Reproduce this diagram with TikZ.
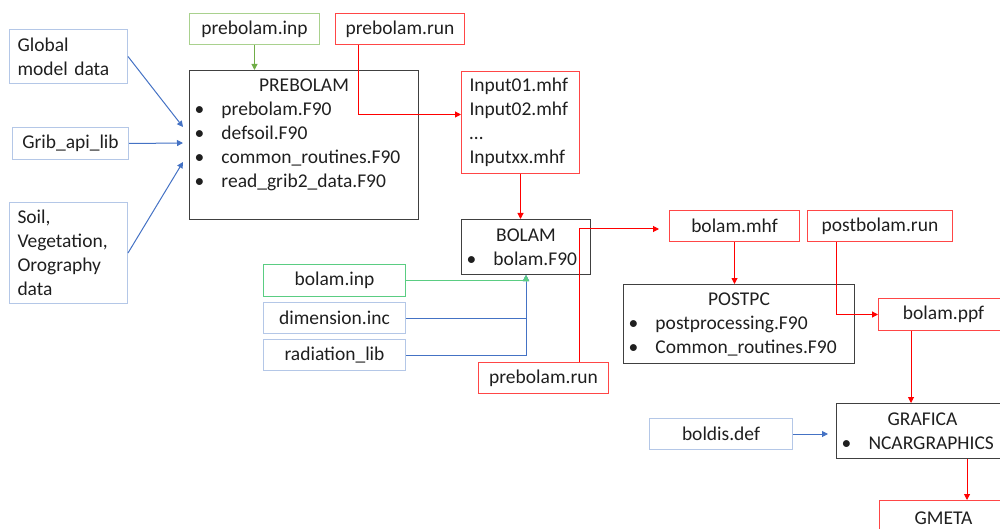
\documentclass[tikz,border=0pt]{standalone}
\usepackage{fontspec}
\setmainfont{Carlito}
\usetikzlibrary{calc}
\usetikzlibrary{arrows.meta}

\definecolor{lnblue}{RGB}{68,114,196}
\definecolor{bxblue}{RGB}{180,199,231}
\definecolor{lngreen}{RGB}{112,173,71}
\definecolor{bxgreen}{RGB}{169,209,142}
\definecolor{bxmint}{RGB}{90,205,130}
\definecolor{bxred}{RGB}{255,70,70}
\definecolor{bxgray}{RGB}{64,64,64}

\newcommand{\itm}{\hspace*{-3pt}\makebox[27pt][l]{\textbullet}}
\newcommand{\ttl}[1]{\makebox[\linewidth][c]{#1}}

\tikzset{
 box/.style={draw, line width=1pt, anchor=north west, inner xsep=8pt, inner ysep=0pt,
   text=black!88, font=\fontsize{19.5}{24}\selectfont},
 bluebox/.style={box, draw=bxblue},
 greenbox/.style={box, draw=bxgreen},
 mintbox/.style={box, draw=bxmint},
 redbox/.style={box, draw=bxred},
 graybox/.style={box, draw=bxgray},
 arr/.style={line width=1pt, -{Triangle[length=6pt,width=6pt]}},
 bluearr/.style={arr, lnblue},
 greenarr/.style={arr, lngreen},
 mintarr/.style={arr, bxmint},
 redarr/.style={arr, red},
}

\begin{document}
\begin{tikzpicture}[x=1pt,y=-1pt]
\useasboundingbox (0,0) rectangle (1000,529);
\clip (0,0) rectangle (1000,529);

% input side of PREBOLAM
\node[bluebox, minimum width=118, minimum height=54, text width=102, align=left] (glob) at (9,29) {Global\\model data};
\node[bluebox, minimum width=116, minimum height=32] (grib) at (12,127) {Grib\_api\_lib};
\node[bluebox, minimum width=118, minimum height=101, text width=102, align=left] (soil) at (9,202) {Soil,\\Vegetation,\\Orography\\data};
\node[greenbox, minimum width=130, minimum height=31] (pinp) at (189,13) {prebolam.inp};
\node[redbox, minimum width=129, minimum height=31] (prun) at (335,13) {prebolam.run};
\node[graybox, minimum width=229, minimum height=149, text width=213, align=left] (prebolam) at (189,70)
 {\ttl{PREBOLAM}\\ \itm prebolam.F90\\ \itm defsoil.F90\\ \itm common\_routines.F90\\ \itm read\_grib2\_data.F90\\ \mbox{}};

% BOLAM
\node[redbox, minimum width=118, minimum height=102, text width=102, align=left] (inp) at (461,71)
 {Input01.mhf\\Input02.mhf\\…\\Inputxx.mhf};
\node[graybox, minimum width=129, minimum height=55, text width=113, align=left] (bolam) at (461,219)
 {\ttl{BOLAM}\\ \itm bolam.F90};
\node[mintbox, minimum width=142, minimum height=32] (binp) at (263,264) {bolam.inp};
\node[bluebox, minimum width=142, minimum height=31] (dim) at (263,302) {dimension.inc};
\node[bluebox, minimum width=142, minimum height=31] (rad) at (263,339) {radiation\_lib};
\node[redbox, minimum width=130, minimum height=31] (prun2) at (478,362) {prebolam.run};

% post processing and graphics
\node[redbox, minimum width=130, minimum height=31] (mhf) at (669,210) {bolam.mhf};
\node[redbox, minimum width=145, minimum height=31] (postrun) at (807,210) {postbolam.run};
\node[graybox, minimum width=231, minimum height=79, text width=215, align=left] (postpc) at (623,284)
 {\ttl{POSTPC}\\ \itm postprocessing.F90\\ \itm Common\_routines.F90};
\node[redbox, minimum width=130, minimum height=32] (ppf) at (878,298) {bolam.ppf};
\node[bluebox, minimum width=143, minimum height=31] (boldis) at (649,418) {boldis.def};
\node[graybox, minimum width=172, minimum height=55, text width=156, align=left] (grafica) at (836,403)
 {\ttl{GRAFICA}\\ \itm NCARGRAPHICS};
\node[redbox, minimum width=128, minimum height=36] (gmeta) at (879,500) {GMETA};

\coordinate (pa) at (183,127);
\coordinate (pb) at (183,143);
\coordinate (pc) at (183,162);
\coordinate (prunout) at ([xshift=23pt]prun.south west);
\coordinate (prun2out) at ([xshift=101pt]prun2.north west);
\coordinate (postrunout) at ([xshift=29pt]postrun.south west);
\coordinate (ppfout) at ([xshift=33pt]ppf.south west);
\coordinate (grafout) at ([xshift=131pt]grafica.south west);

\foreach \a/\b in {glob/pa, grib/pb, soil/pc}
 \draw[bluearr] (\a.east) -- (\b);
\draw[greenarr] (pinp.south) -- (pinp.south |- prebolam.north);
\draw[redarr] (prunout) |- ([yshift=8pt]inp.west);
\draw[redarr] (inp.south) -- (inp.south |- bolam.north);
\draw[bluearr] (dim.east) -| (bolam.south);
\draw[bluearr] (rad.east) -| (bolam.south);
\draw[mintarr] (binp.east) -| (bolam.south);
\draw[redarr] (prun2out) |- ([shift={(-10pt,-3pt)}]mhf.west);
\draw[redarr] (mhf.south) -- (mhf.south |- postpc.north);
\draw[redarr] (postrunout) |- (ppf.west);
\draw[redarr] (ppfout) -- (ppfout |- grafica.north);
\draw[bluearr, shorten >=8pt] (boldis.east) -- (boldis.east -| grafica.west);
\draw[redarr] (grafout) -- (grafout |- gmeta.north);
\end{tikzpicture}
\end{document}
